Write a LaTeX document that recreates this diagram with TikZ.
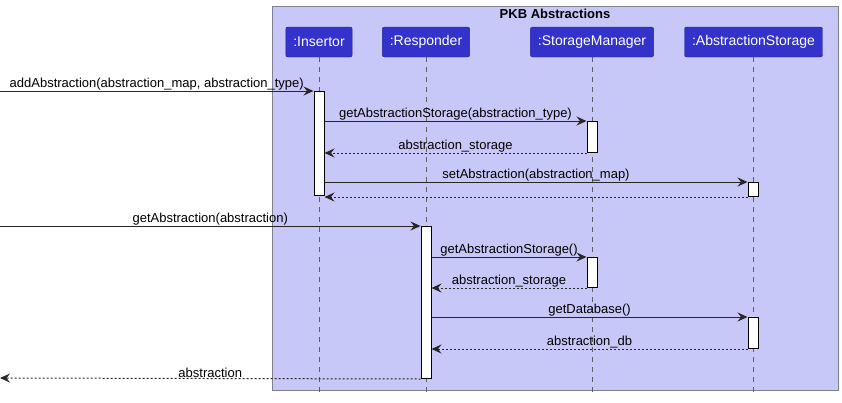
\documentclass[tikz,border=0pt]{standalone}
\usepackage{fontspec}
\setmainfont{Liberation Sans}
\usetikzlibrary{arrows.meta}

\definecolor{framefill}{RGB}{200,200,248}
\definecolor{framedraw}{RGB}{128,128,144}
\definecolor{partfill}{RGB}{51,51,204}
\definecolor{partdraw}{RGB}{34,34,150}

\begin{document}
\begin{tikzpicture}[
    x=1pt, y=-1pt,
    part/.style={rectangle, draw=partdraw, fill=partfill, rounded corners=2pt, text=white,
                minimum height=30pt, inner xsep=7.5pt, font=\fontsize{14}{16}\selectfont},
    bar/.style={rectangle, draw=black, fill=white, line width=1pt, anchor=north,
                minimum width=10pt, inner sep=0pt},
    lifeline/.style={draw=gray!75!black, line width=1pt, dash pattern=on 5pt off 5pt},
    call/.style={-{Stealth[length=10pt, width=9pt, inset=3.5pt]}, line width=1pt, black!85},
    reply/.style={call, dash pattern=on 2pt off 2pt},
    lbl/.style={above, inner sep=0pt, text=black, font=\fontsize{13}{15}\selectfont}
]
    \useasboundingbox (0,0) rectangle (842,402);

    % group frame
    \node[draw=framedraw, fill=framefill, line width=1pt, minimum width=566pt, minimum height=384pt,
          anchor=north west, inner sep=0pt] (frame) at (272,6) {};
    \node[font=\bfseries\fontsize{13}{15}\selectfont, anchor=north, inner sep=0pt] (title) at (555,9) {PKB Abstractions};

    \node[part] (ins) at (319,42) {:Insertor};
    \node[part] (res) at (426,42) {:Responder};
    \node[part] (sm) at (592,42) {:StorageManager};
    \node[part] (as) at (753.5,42) {:AbstractionStorage};

    \draw[lifeline] (ins.south) -- ++(0,338);
    \draw[lifeline] (res.south) -- ++(0,338);
    \draw[lifeline] (sm.south) -- ++(0,338);
    \draw[lifeline] (as.south) -- ++(0,338);

    \node[bar, minimum height=104pt] (insbar) at (319,91) {};
    \node[bar, minimum height=31pt] (smbar1) at (592,121) {};
    \node[bar, minimum height=14pt] (asbar1) at (753,182) {};
    \node[bar, minimum height=152pt] (resbar) at (426,226) {};
    \node[bar, minimum height=30pt] (smbar2) at (592,257) {};
    \node[bar, minimum height=31pt] (asbar2) at (753,317) {};

    \coordinate (in1) at (0,91);
    \coordinate (in2) at (0,226);
    \coordinate (out2) at (0,378);

    % insertor
    \draw[call] (in1) -- node[lbl] {addAbstraction(abstraction\_map, abstraction\_type)} (insbar.north west);
    \draw[call] (insbar.east |- smbar1.north) -- node[lbl] {getAbstractionStorage(abstraction\_type)} (smbar1.north west);
    \draw[reply] (smbar1.south west) -- node[lbl] {abstraction\_storage} (insbar.east |- smbar1.south);
    \draw[call] (insbar.east |- asbar1.north) -- node[lbl] {setAbstraction(abstraction\_map)} (asbar1.north west);
    \draw[reply] (asbar1.south west) -- (insbar.east |- asbar1.south);

    % responder
    \draw[call] (in2) -- node[lbl] {getAbstraction(abstraction)} (resbar.north west);
    \draw[call] (resbar.east |- smbar2.north) -- node[lbl] {getAbstractionStorage()} (smbar2.north west);
    \draw[reply] (smbar2.south west) -- node[lbl] {abstraction\_storage} (resbar.east |- smbar2.south);
    \draw[call] (resbar.east |- asbar2.north) -- node[lbl] {getDatabase()} (asbar2.north west);
    \draw[reply] (asbar2.south west) -- node[lbl] {abstraction\_db} (resbar.east |- asbar2.south);
    \draw[reply] (resbar.south west) -- node[lbl] {abstraction} (out2);
\end{tikzpicture}
\end{document}
